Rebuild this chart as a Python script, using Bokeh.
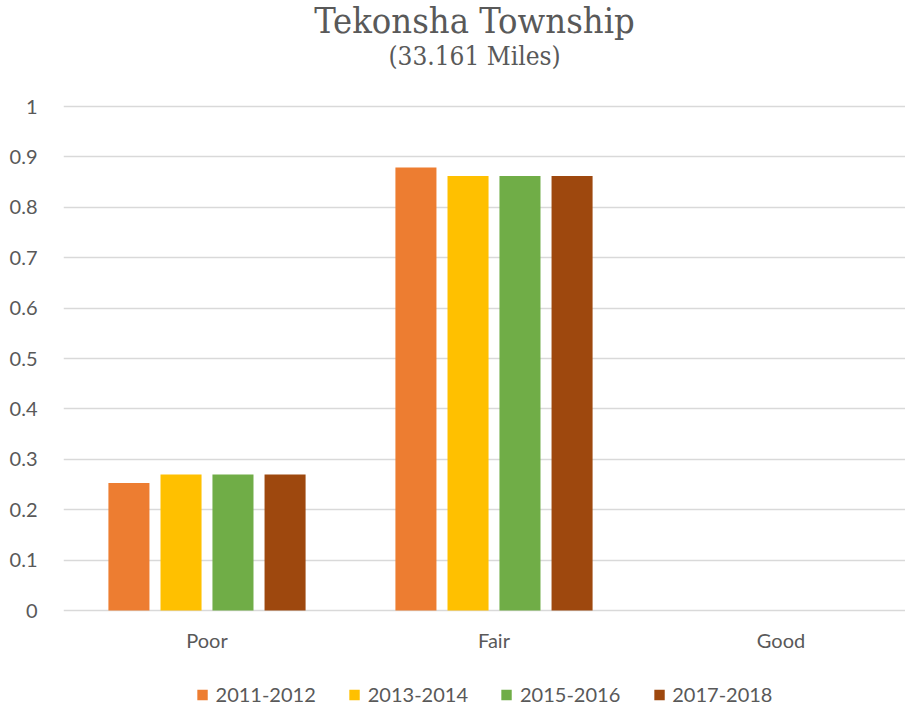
from bokeh.plotting import figure
from bokeh.models import (Range1d, ColumnDataSource, FixedTicker, Legend, LegendItem,
                          Label)
from bokeh.transform import dodge
from bokeh.embed import file_html
from bokeh.resources import INLINE

# ---- data ----
categories = ["Poor", "Fair", "Good"]
series = ["2011-2012", "2013-2014", "2015-2016", "2017-2018"]
v_2011_2012 = [0.253, 0.879, 0.0]
v_2013_2014 = [0.270, 0.862, 0.0]
v_2015_2016 = [0.270, 0.862, 0.0]
v_2017_2018 = [0.270, 0.862, 0.0]
y_ticks = [0, 0.1, 0.2, 0.3, 0.4, 0.5, 0.6, 0.7, 0.8, 0.9, 1]
y_tick_labels = ["0", "0.1", "0.2", "0.3", "0.4", "0.5", "0.6", "0.7", "0.8", "0.9", "1"]
title_text = "Tekonsha Township"
subtitle_text = "(33.161 Miles)"

colors = ["#ED7D31", "#FFC000", "#70AD47", "#9E480E"]
offsets = [-0.272, -0.0905, 0.0905, 0.272]
bar_width = 0.143

xpos = [i + 0.5 for i in range(len(categories))]
source = ColumnDataSource(dict(x=xpos, cat=categories,
                               s0=v_2011_2012, s1=v_2013_2014,
                               s2=v_2015_2016, s3=v_2017_2018))

FONT = "Lato"
GREY = "#595959"

PX_X = 287.0          # pixels per category
PX_Y = 504.0          # pixels per unit of value
TOP_PAD = 106         # room above the value 1 for the titles
BOTTOM_PAD = 98       # room below the value 0 for category labels and legend
FRAME_W = 842

p = figure(frame_width=FRAME_W, frame_height=int(PX_Y + TOP_PAD + BOTTOM_PAD),
           output_backend="svg", toolbar_location=None,
           x_range=Range1d(0, FRAME_W / PX_X),
           y_range=Range1d(-BOTTOM_PAD / PX_Y, 1 + TOP_PAD / PX_Y),
           min_border_left=63, min_border_right=0, min_border_top=0,
           min_border_bottom=0, outline_line_color=None)
p.title = None

items = []
for k, (col, off, name) in enumerate(zip(colors, offsets, series)):
    r = p.vbar(x=dodge("x", off), top="s%d" % k, width=bar_width, source=source,
               fill_color=col, line_color=None)
    items.append(LegendItem(label=name, renderers=[r]))

# titles (positioned in the empty band above the value 1)
title_x = (474 - 63) / PX_X
p.add_layout(Label(x=title_x, y=1 + (106 - 20) / PX_Y, text=title_text,
                   text_align="center", text_baseline="alphabetic",
                   text_font="DejaVu Serif Condensed", text_font_size="36px",
                   text_color=GREY))
p.add_layout(Label(x=title_x, y=1 + (106 - 55) / PX_Y, text=subtitle_text,
                   text_align="center", text_baseline="alphabetic",
                   text_font="DejaVu Serif Condensed", text_font_size="26px",
                   text_color=GREY))

# axes
p.xaxis.fixed_location = 0
p.xaxis.ticker = FixedTicker(ticks=xpos)
p.xaxis.major_label_overrides = {x: c for x, c in zip(xpos, categories)}
p.xaxis.axis_line_color = None
p.xaxis.major_tick_line_color = None
p.xaxis.minor_tick_line_color = None
p.xaxis.major_label_text_font = FONT
p.xaxis.major_label_text_font_size = "20px"
p.xaxis.major_label_text_color = GREY
p.xaxis.major_label_standoff = 11

p.yaxis.ticker = FixedTicker(ticks=y_ticks)
p.yaxis.major_label_overrides = {t: l for t, l in zip(y_ticks, y_tick_labels)}
p.yaxis.axis_line_color = None
p.yaxis.major_tick_line_color = None
p.yaxis.minor_tick_line_color = None
p.yaxis.major_label_text_font = FONT
p.yaxis.major_label_text_font_size = "20px"
p.yaxis.major_label_text_color = GREY
p.yaxis.major_label_standoff = 20

p.xgrid.grid_line_color = None
p.ygrid.grid_line_color = "#D9D9D9"
p.ygrid.grid_line_width = 1.5

legend = Legend(items=items, orientation="horizontal", location="bottom_center",
                glyph_width=13, glyph_height=13, label_standoff=7, spacing=32,
                label_text_font=FONT, label_text_font_size="20px",
                label_text_color=GREY, border_line_color=None,
                background_fill_alpha=0, padding=2, margin=2)
p.add_layout(legend, "center")

open("out.html", "w").write(file_html(p, INLINE))
